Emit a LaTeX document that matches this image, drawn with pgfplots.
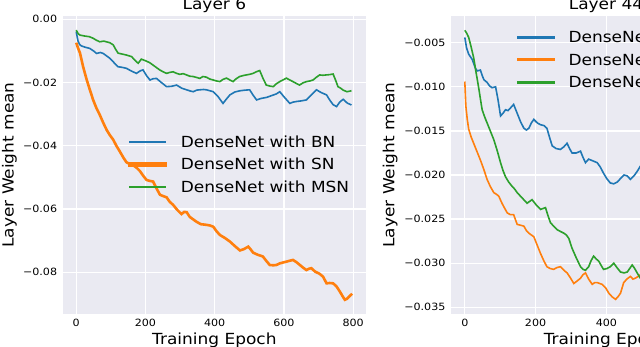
\documentclass[border=0pt]{standalone}
\usepackage{fontspec}
\setmainfont{DejaVu Sans}[FakeStretch=1.11]
\usepackage{pgfplots}
\pgfplotsset{compat=1.18}

\definecolor{bgc}{HTML}{EAEAF2}
\definecolor{cBN}{HTML}{1F77B4}
\definecolor{cSN}{HTML}{FF7F0E}
\definecolor{cMSN}{HTML}{2CA02C}

\newcommand{\lblfont}{\fontsize{15.3}{18}\selectfont}

\pgfplotsset{
  dgrid/.style={
    scale only axis,
    height=298pt,
    axis background/.style={fill=bgc},
    axis line style={draw=none},
    major tick length=0pt,
    grid=major,
    grid style={white, line width=1.2pt},
    xmin=-39, xmax=837,
    xtick={0,200,400,600,800},
    xticklabels={0,200,400,600,800},
    scaled y ticks=false,
    scaled x ticks=false,
    tick label style={font=\fontsize{10}{12}\selectfont, inner sep=0pt},
    xticklabel style={yshift=-5.3pt},
    yticklabel style={xshift=-5.4pt},
    every axis x label/.style={at={(axis description cs:0.5,0)}, anchor=base, yshift=-30.3pt, font=\lblfont},
    every axis title/.style={at={(axis description cs:0.5,1)}, anchor=base, yshift=6pt, font=\lblfont},
    xlabel={Training Epoch},
    ylabel={Layer Weight mean},
    legend style={draw=none, fill=none, inner sep=0pt,
      font=\lblfont,
      nodes={inner sep=0pt, text height=11.5pt, text depth=3.5pt},
      row sep=7.5pt,
      /tikz/every odd column/.append style={column sep=14pt}},
    legend cell align=left,
  }
}
% legend sample drawn as a filled bar, scaled to the plot's line width
\pgfplotsset{legend image code/.code={%
  \begin{scope}[#1]
    \fill (0pt,1.5pt-0.4\pgflinewidth) rectangle (36pt,1.5pt+0.4\pgflinewidth);
  \end{scope}}}

\begin{document}
\begin{tikzpicture}
\useasboundingbox (0pt,0pt) rectangle (640pt,347pt);
\clip (0pt,0pt) rectangle (640pt,347pt);

% left: layer 6
\begin{axis}[dgrid,
  at={(62.7pt,33pt)}, anchor=south west, width=303.3pt,
  ymin=-0.0932, ymax=0.00105,
  ytick={0,-0.02,-0.04,-0.06,-0.08},
  yticklabels={0.00,−0.02,−0.04,−0.06,−0.08},
  title={Layer 6},
  every axis y label/.style={at={(axis description cs:-0.1622,0.5)}, anchor=base, rotate=90, font=\lblfont},
  legend style={at={(0.2153,0.598)}, anchor=north west},
]
\addplot[cBN, line width=1.6pt] coordinates {
(0,-0.0039) (5,-0.0068) (10,-0.0080) (15,-0.0084) (25,-0.0088) (39,-0.0092) (50,-0.0100) (59,-0.0108) (70,-0.0105) (78,-0.0108) (88,-0.0116) (97,-0.0123) (110,-0.0138) (121,-0.0150) (133,-0.0152) (145,-0.0155) (160,-0.0164) (174,-0.0171) (185,-0.0163) (193,-0.0160) (203,-0.0178) (213,-0.0192) (222,-0.0188) (232,-0.0187) (246,-0.0200) (261,-0.0213) (275,-0.0212) (290,-0.0208) (305,-0.0218) (319,-0.0223) (330,-0.0227) (338,-0.0229) (348,-0.0224) (357,-0.0223) (368,-0.0222) (376,-0.0223) (386,-0.0226) (396,-0.0229) (410,-0.0245) (424,-0.0266) (434,-0.0252) (444,-0.0239) (458,-0.0230) (473,-0.0226) (488,-0.0224) (501,-0.0223) (511,-0.0240) (521,-0.0255) (535,-0.0250) (550,-0.0247) (565,-0.0241) (578,-0.0236) (588,-0.0229) (600,-0.0245) (617,-0.0266) (626,-0.0262) (636,-0.0260) (650,-0.0258) (665,-0.0255) (680,-0.0238) (694,-0.0223) (708,-0.0232) (723,-0.0239) (732,-0.0255) (742,-0.0270) (752,-0.0276) (761,-0.0262) (771,-0.0253) (783,-0.0265) (795,-0.0271)
};
\addlegendentry{DenseNet with BN}
\addplot[cSN, line width=2.6pt] coordinates {
(0,-0.0074) (5,-0.0090) (11,-0.0107) (20,-0.0150) (30,-0.0190) (40,-0.0225) (49,-0.0255) (58,-0.0280) (68,-0.0302) (78,-0.0327) (88,-0.0350) (97,-0.0366) (107,-0.0381) (116,-0.0400) (126,-0.0418) (136,-0.0437) (145,-0.0452) (155,-0.0458) (165,-0.0462) (175,-0.0470) (184,-0.0480) (193,-0.0494) (203,-0.0508) (212,-0.0511) (222,-0.0513) (232,-0.0535) (242,-0.0555) (251,-0.0559) (261,-0.0563) (270,-0.0577) (280,-0.0587) (292,-0.0603) (304,-0.0616) (312,-0.0609) (319,-0.0610) (328,-0.0625) (347,-0.0640) (360,-0.0648) (376,-0.0650) (386,-0.0652) (396,-0.0656) (405,-0.0670) (415,-0.0682) (430,-0.0692) (444,-0.0703) (458,-0.0717) (473,-0.0731) (484,-0.0727) (497,-0.0719) (504,-0.0728) (511,-0.0738) (525,-0.0745) (539,-0.0750) (549,-0.0764) (559,-0.0777) (569,-0.0778) (578,-0.0777) (588,-0.0772) (598,-0.0769) (612,-0.0765) (626,-0.0761) (636,-0.0768) (646,-0.0777) (656,-0.0786) (665,-0.0793) (672,-0.0789) (679,-0.0787) (690,-0.0798) (703,-0.0805) (713,-0.0814) (723,-0.0835) (732,-0.0834) (742,-0.0835) (752,-0.0845) (762,-0.0862) (770,-0.0877) (776,-0.0887) (782,-0.0884) (789,-0.0876) (797,-0.0868)
};
\addlegendentry{DenseNet with SN}
\addplot[cMSN, line width=1.6pt] coordinates {
(0,-0.0034) (6,-0.0046) (11,-0.0050) (25,-0.0053) (38,-0.0055) (49,-0.0060) (58,-0.0066) (68,-0.0071) (80,-0.0069) (90,-0.0072) (97,-0.0074) (107,-0.0081) (114,-0.0095) (121,-0.0107) (133,-0.0110) (145,-0.0113) (160,-0.0118) (170,-0.0130) (179,-0.0139) (188,-0.0126) (200,-0.0131) (212,-0.0137) (226,-0.0148) (241,-0.0160) (251,-0.0166) (261,-0.0171) (270,-0.0168) (280,-0.0166) (290,-0.0171) (299,-0.0174) (309,-0.0172) (319,-0.0176) (328,-0.0180) (338,-0.0181) (348,-0.0184) (357,-0.0187) (366,-0.0181) (376,-0.0183) (386,-0.0189) (396,-0.0192) (405,-0.0195) (415,-0.0197) (424,-0.0190) (434,-0.0186) (444,-0.0192) (453,-0.0197) (462,-0.0188) (472,-0.0181) (482,-0.0178) (491,-0.0176) (501,-0.0174) (511,-0.0171) (520,-0.0166) (530,-0.0162) (540,-0.0188) (549,-0.0208) (559,-0.0211) (569,-0.0213) (578,-0.0204) (588,-0.0197) (597,-0.0192) (607,-0.0186) (617,-0.0192) (626,-0.0197) (636,-0.0203) (645,-0.0208) (655,-0.0201) (665,-0.0197) (675,-0.0195) (684,-0.0192) (694,-0.0183) (703,-0.0176) (712,-0.0177) (722,-0.0176) (732,-0.0175) (742,-0.0173) (750,-0.0195) (756,-0.0213) (764,-0.0218) (771,-0.0224) (782,-0.0229) (795,-0.0226)
};
\addlegendentry{DenseNet with MSN}
\end{axis}

% right: layer 44
\begin{axis}[dgrid,
  at={(451pt,33pt)}, anchor=south west, width=310pt,
  ymin=-0.03576, ymax=-0.00197,
  ytick={-0.005,-0.01,-0.015,-0.02,-0.025,-0.03,-0.035},
  yticklabels={−0.005,−0.010,−0.015,−0.020,−0.025,−0.030,−0.035},
  title={Layer 44},
  every axis y label/.style={at={(axis description cs:-0.1823,0.5)}, anchor=base, rotate=90, font=\lblfont},
  legend style={at={(0.212,0.950)}, anchor=north west},
]
\addplot[cBN, line width=1.6pt] coordinates {
(0,-0.0044) (5,-0.0056) (11,-0.0063) (21,-0.0069) (30,-0.0079) (35,-0.0082) (44,-0.0081) (49,-0.0087) (54,-0.0092) (63,-0.0095) (70,-0.0099) (77,-0.0101) (87,-0.0100) (94,-0.0115) (101,-0.0133) (108,-0.0130) (115,-0.0126) (122,-0.0127) (129,-0.0124) (138,-0.0120) (148,-0.0130) (158,-0.0140) (167,-0.0147) (174,-0.0149) (181,-0.0147) (188,-0.0141) (195,-0.0137) (205,-0.0141) (214,-0.0143) (224,-0.0144) (232,-0.0147) (240,-0.0158) (247,-0.0167) (258,-0.0170) (270,-0.0171) (280,-0.0168) (289,-0.0164) (296,-0.0170) (303,-0.0175) (315,-0.0175) (327,-0.0173) (334,-0.0180) (341,-0.0186) (350,-0.0182) (362,-0.0184) (374,-0.0186) (383,-0.0191) (392,-0.0198) (401,-0.0204) (411,-0.0209) (421,-0.0210) (431,-0.0208) (440,-0.0204) (450,-0.0200) (459,-0.0201) (468,-0.0205) (478,-0.0201) (487,-0.0196) (496,-0.0190) (506,-0.0188) (520,-0.0185)
};
\addlegendentry{DenseNet with BN}
\addplot[cSN, line width=1.6pt] coordinates {
(0,-0.0094) (3,-0.0122) (7,-0.0137) (11,-0.0148) (18,-0.0157) (25,-0.0164) (35,-0.0174) (44,-0.0183) (54,-0.0194) (63,-0.0205) (72,-0.0213) (82,-0.0220) (90,-0.0222) (96,-0.0224) (105,-0.0232) (113,-0.0238) (120,-0.0243) (129,-0.0245) (138,-0.0245) (148,-0.0256) (158,-0.0257) (167,-0.0258) (174,-0.0263) (181,-0.0266) (188,-0.0268) (195,-0.0270) (205,-0.0280) (214,-0.0289) (223,-0.0297) (232,-0.0304) (241,-0.0306) (251,-0.0307) (260,-0.0305) (270,-0.0304) (280,-0.0308) (289,-0.0311) (299,-0.0317) (308,-0.0323) (318,-0.0320) (327,-0.0317) (334,-0.0313) (341,-0.0311) (350,-0.0318) (360,-0.0324) (367,-0.0322) (374,-0.0322) (381,-0.0323) (388,-0.0324) (398,-0.0328) (407,-0.0334) (416,-0.0338) (426,-0.0341) (433,-0.0338) (440,-0.0334) (449,-0.0322) (458,-0.0318) (468,-0.0315) (475,-0.0318) (482,-0.0317) (490,-0.0315) (496,-0.0313) (506,-0.0310) (520,-0.0307)
};
\addlegendentry{DenseNet with SN}
\addplot[cMSN, line width=1.6pt] coordinates {
(0,-0.0036) (5,-0.0039) (11,-0.0044) (18,-0.0055) (25,-0.0067) (32,-0.0084) (40,-0.0103) (45,-0.0116) (49,-0.0126) (56,-0.0134) (63,-0.0141) (72,-0.0150) (82,-0.0160) (92,-0.0173) (101,-0.0186) (108,-0.0195) (115,-0.0202) (124,-0.0208) (134,-0.0213) (141,-0.0216) (148,-0.0220) (162,-0.0226) (176,-0.0232) (183,-0.0230) (190,-0.0228) (202,-0.0234) (214,-0.0239) (221,-0.0238) (228,-0.0237) (235,-0.0246) (242,-0.0254) (251,-0.0258) (261,-0.0262) (270,-0.0264) (280,-0.0266) (287,-0.0268) (294,-0.0272) (303,-0.0283) (315,-0.0294) (327,-0.0304) (334,-0.0307) (341,-0.0308) (350,-0.0304) (357,-0.0297) (364,-0.0292) (371,-0.0295) (379,-0.0298) (386,-0.0303) (392,-0.0307) (402,-0.0306) (411,-0.0304) (421,-0.0300) (430,-0.0305) (440,-0.0310) (450,-0.0311) (459,-0.0310) (466,-0.0306) (473,-0.0302) (480,-0.0306) (487,-0.0311) (496,-0.0317) (506,-0.0320) (520,-0.0322)
};
\addlegendentry{DenseNet with MSN}
\end{axis}
\end{tikzpicture}
\end{document}
